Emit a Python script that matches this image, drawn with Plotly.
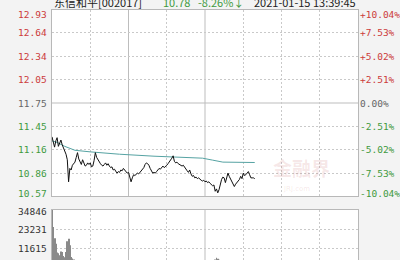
import plotly.graph_objects as go

# ---------------- data ----------------
price = [11.32, 11.25, 11.19, 11.27, 11.31, 11.20, 11.24, 11.28, 11.22, 11.18,
         11.15, 11.10, 11.03, 10.75, 10.92, 10.90, 10.96, 10.98, 11.00, 11.06,
         11.12, 11.04, 10.99, 10.97, 11.03, 10.98, 10.95, 10.96, 10.99, 10.97,
         10.99, 10.94, 10.95, 11.02, 11.12, 11.06, 11.03, 10.99, 10.98, 10.96,
         10.95, 10.97, 10.99, 10.96, 10.98, 10.95, 10.93, 10.94, 10.90, 10.91,
         10.88, 10.86, 10.88, 10.87, 10.90, 10.89, 10.92, 10.90, 10.88, 10.86,
         10.87, 10.82, 10.75, 10.80, 10.84, 10.83, 10.85, 10.86, 10.85, 10.87,
         10.89, 10.90, 10.93, 10.97, 10.99, 10.98, 10.96, 10.92, 10.88, 10.86,
         10.87, 10.86, 10.88, 10.90, 10.92, 10.91, 10.94, 10.95, 10.93, 10.94,
         10.96, 10.98, 11.00, 11.03, 11.05, 11.08, 11.01, 10.99, 11.00, 10.98,
         10.97, 10.96, 10.95, 10.96, 10.93, 10.91, 10.89, 10.87, 10.90, 10.85,
         10.82, 10.83, 10.80, 10.81, 10.79, 10.80, 10.78, 10.77, 10.76, 10.77,
         10.75, 10.76, 10.74, 10.75, 10.73, 10.72, 10.70, 10.71, 10.63, 10.66,
         10.61, 10.65, 10.72, 10.78, 10.81, 10.80, 10.74, 10.82, 10.86, 10.82,
         10.79, 10.76, 10.73, 10.69, 10.72, 10.74, 10.76, 10.78, 10.82, 10.79,
         10.86, 10.83, 10.84, 10.87, 10.88, 10.84, 10.80, 10.80, 10.80, 10.79]

avg_minutes = [0, 4, 10, 14, 18, 30, 53, 80, 106, 118, 126, 134, 159]
avg_price = [11.27, 11.25, 11.20, 11.17, 11.15, 11.13, 11.10, 11.075, 11.055, 11.05, 11.025, 11.00, 10.995]

volume = [34846, 24500, 17600, 14200, 8800, 8400, 7200, 9400, 9100, 6800,
          5900, 9200, 15800, 17200, 13300, 6100, 5200, 4600, 3900, 4100,
          3800, 3500, 3200, 3600, 3300, 3000, 2900, 3100, 2800, 2700,
          2600, 2900, 3100, 3400, 4200, 3600, 3000, 2700, 2500, 2400,
          2300, 2600, 2400, 2200, 2300, 2100, 2400, 2000, 2200, 2100,
          2300, 2500, 2200, 2000, 1900, 2100, 2000, 1800, 1900, 2200,
          2400, 3200, 3900, 3000, 2600, 2200, 2000, 1900, 1800, 2000,
          2100, 2300, 2500, 2800, 2600, 2200, 2000, 2100, 1900, 1800,
          1700, 1900, 2000, 1800, 1700, 1900, 2000, 1800, 1700, 1900,
          2100, 2200, 2400, 2600, 2800, 3000, 2500, 2100, 1900, 1800,
          1700, 1600, 1800, 1700, 1900, 2000, 2200, 2300, 2100, 2400,
          2600, 2500, 2700, 2400, 2300, 2500, 2200, 2400, 2600, 2300,
          2800, 2500, 2700, 2900, 3100, 3300, 3500, 3700, 4600, 5600,
          5000, 4400, 3800, 3500, 3200, 3000, 3300, 3600, 3900, 3400,
          3000, 2800, 3100, 3400, 3200, 3000, 2900, 3100, 3300, 3000,
          3400, 3200, 3000, 2800, 3100, 2900, 2700, 2600, 2500, 2400]

price_ticks = [12.93, 12.64, 12.34, 12.05, 11.75, 11.45, 11.16, 10.86, 10.57]
price_labels = ["12.93", "12.64", "12.34", "12.05", "11.75", "11.45", "11.16", "10.86", "10.57"]
pct_labels = ["+10.04%", "+7.53%", "+5.02%", "+2.51%", "0.00%", "-2.51%", "-5.02%", "-7.53%", "-10.04%"]
vol_ticks = [34846, 23231, 11615]
vol_labels = ["34846", "23231", "11615"]
time_ticks = [0, 30, 60, 90, 120, 150, 180, 210, 240]

prev_close = 11.75
title_name = "东信和平[002017]"
title_price = "10.78"
title_change = "-8.26%↓"
title_time = "2021-01-15 13:39:45"

minutes = list(range(len(price)))

# ---------------- styling ----------------
RED = "#cc3b3b"
GREEN = "#3f9a3f"
GREY = "#666666"
GRID = "#c9c9c9"
MONO = "DejaVu Sans Mono"

fig = go.Figure()

fig.add_trace(go.Bar(x=minutes, y=volume, marker=dict(color="#8a8a8a", line=dict(width=0)),
                     xaxis="x2", yaxis="y3", showlegend=False))
fig.add_trace(go.Scatter(x=avg_minutes, y=avg_price, mode="lines",
                         line=dict(color="#56a3a3", width=1), showlegend=False))
fig.add_trace(go.Scatter(x=minutes, y=price, mode="lines",
                         line=dict(color="#111111", width=1), showlegend=False))

grid_x = [t for t in time_ticks if t not in (0, 60, 120, 240)]
axis_common = dict(showline=True, mirror=True, linecolor="#b8b8b8", linewidth=1,
                   zeroline=False, ticks="", showticklabels=False)

fig.update_layout(
    width=400, height=260,
    margin=dict(l=52, r=42, t=10, b=0),
    paper_bgcolor="#f3f3f3", plot_bgcolor="#ffffff",
    bargap=0.25,
    xaxis=dict(domain=[0, 1], range=[0, 240], tickvals=grid_x, showgrid=True,
               gridcolor=GRID, griddash="2px,2px", gridwidth=1, anchor="y", **axis_common),
    yaxis=dict(domain=[0.256, 1], range=[10.57, 12.93],
               tickvals=[t for t in price_ticks if t != prev_close],
               showgrid=True, gridcolor=GRID, griddash="2px,2px", gridwidth=1, **axis_common),
    xaxis2=dict(domain=[0, 1], range=[0, 240], tickvals=grid_x, showgrid=True,
                gridcolor=GRID, griddash="2px,2px", gridwidth=1, anchor="y3", **axis_common),
    yaxis3=dict(domain=[0, 0.2], range=[4280, 34846], tickvals=vol_ticks,
                showgrid=True, gridcolor=GRID, griddash="2px,2px", gridwidth=1,
                anchor="x2", **axis_common),
)

# solid reference lines
shapes = []
for t in (60, 120):
    shapes.append(dict(type="line", xref="x", yref="y", x0=t, x1=t, y0=10.57, y1=12.93,
                       line=dict(color="#bdbdbd", width=1), layer="below"))
    shapes.append(dict(type="line", xref="x2", yref="y3", x0=t, x1=t, y0=0, y1=34846,
                       line=dict(color="#bdbdbd", width=1), layer="below"))
shapes.append(dict(type="line", xref="x", yref="y", x0=0, x1=240, y0=prev_close, y1=prev_close,
                   line=dict(color="#bdbdbd", width=1), layer="below"))
fig.update_layout(shapes=shapes)

ann = []
n = len(price_ticks)
for i, (v, lab, pl) in enumerate(zip(price_ticks, price_labels, pct_labels)):
    if v > prev_close:
        col = RED
    elif v < prev_close:
        col = GREEN
    else:
        col = GREY
    ys = -4.5 if i == 0 else (3 if i == n - 1 else 0)
    ann.append(dict(xref="paper", yref="y", x=0, y=v, text=lab, showarrow=False,
                    xanchor="right", yanchor="middle", xshift=-3, yshift=ys,
                    font=dict(family=MONO, size=9.5, color=col)))
    ann.append(dict(xref="paper", yref="y", x=1, y=v, text=pl, showarrow=False,
                    xanchor="left", yanchor="middle", xshift=0, yshift=ys,
                    font=dict(family=MONO, size=9.5, color=col)))
for i, (v, lab) in enumerate(zip(vol_ticks, vol_labels)):
    ys = -1.5 if i == 0 else 0
    ann.append(dict(xref="paper", yref="y3", x=0, y=v, text=lab, showarrow=False,
                    xanchor="right", yanchor="middle", xshift=-3, yshift=ys,
                    font=dict(family=MONO, size=9.5, color="#333333")))

# title line (cut off at top, as in the source screenshot)
TF = "Noto Sans CJK SC"
ann.append(dict(xref="paper", yref="paper", x=0, y=1, text=title_name, showarrow=False,
                xanchor="left", yanchor="middle", yshift=8, xshift=0,
                font=dict(family=TF, size=11, color="#222222")))
ann.append(dict(xref="paper", yref="paper", x=0.355, y=1, text=title_price, showarrow=False,
                xanchor="left", yanchor="middle", yshift=8,
                font=dict(family=TF, size=11, color=GREEN)))
ann.append(dict(xref="paper", yref="paper", x=0.47, y=1, text=title_change, showarrow=False,
                xanchor="left", yanchor="middle", yshift=8,
                font=dict(family=TF, size=11, color=GREEN)))
ann.append(dict(xref="paper", yref="paper", x=0.655, y=1, text=title_time, showarrow=False,
                xanchor="left", yanchor="middle", yshift=8,
                font=dict(family=TF, size=11, color="#222222")))

# watermark
ann.append(dict(xref="paper", yref="paper", x=0.815, y=0.37, text="<b>金融界</b>", showarrow=False,
                xanchor="center", yanchor="middle",
                font=dict(family=TF, size=19, color="rgba(200,110,110,0.16)")))
ann.append(dict(xref="paper", yref="paper", x=0.80, y=0.285, text="JRJ.com", showarrow=False,
                xanchor="center", yanchor="middle",
                font=dict(family="DejaVu Sans", size=7, color="rgba(200,110,110,0.16)")))

fig.update_layout(annotations=ann)

fig.write_html("out.html")
